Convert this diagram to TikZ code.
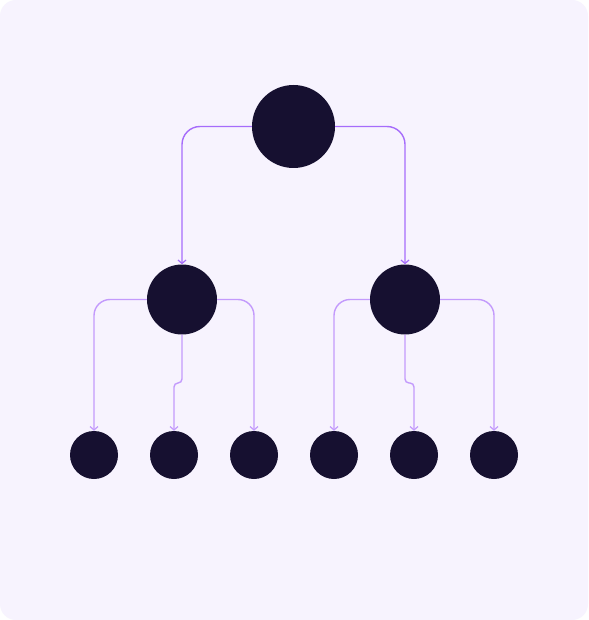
\documentclass[tikz,border=0pt]{standalone}
\usetikzlibrary{arrows.meta}
\definecolor{bgc}{HTML}{F7F3FE}
\definecolor{dotc}{HTML}{161030}
\definecolor{lineA}{HTML}{A66CFB}
\definecolor{lineB}{HTML}{C39AFC}
\begin{document}
\begin{tikzpicture}[x=1pt,y=-1pt,
  dotnode/.style={circle,fill=dotc,inner sep=0pt,draw=none},
  rootdot/.style={dotnode,minimum size=83pt},
  middot/.style={dotnode,minimum size=70pt},
  leafdot/.style={dotnode,minimum size=48pt},
  tipv/.style={-{Straight Barb[length=3.5pt,width=8pt,line width=1.2pt]}},
  connA/.style={draw=lineA,line width=1.4pt,tipv,rounded corners=18pt},
  connB/.style={draw=lineB,line width=1.4pt,tipv,rounded corners=16pt},
  jogB/.style={draw=lineB,line width=1.4pt,tipv,rounded corners=4pt}]
\useasboundingbox (0,0) rectangle (588,620);
\fill[white] (0,0) rectangle (588,620);
\fill[bgc,rounded corners=16pt] (0,0) rectangle (588,620);

\node[rootdot] (root) at (293.5,126.5) {};
\node[middot] (ml) at (182,299.5) {};
\node[middot] (mr) at (405,299.5) {};
\node[leafdot] (a1) at (94,455) {};
\node[leafdot] (a2) at (174,455) {};
\node[leafdot] (a3) at (254,455) {};
\node[leafdot] (b1) at (334,455) {};
\node[leafdot] (b2) at (414,455) {};
\node[leafdot] (b3) at (494,455) {};

\coordinate (jl1) at (182,383);
\coordinate (jl2) at (174,383);
\coordinate (jr1) at (405,383);
\coordinate (jr2) at (414,383);

\draw[connA] (root.west) -| (ml.north);
\draw[connA] (root.east) -| (mr.north);

\draw[connB] (ml.west) -| (a1.north);
\draw[connB] (ml.east) -| (a3.north);
\draw[jogB] (ml.south) -- (jl1) -- (jl2) -- (a2.north);

\draw[connB] (mr.west) -| (b1.north);
\draw[connB] (mr.east) -| (b3.north);
\draw[jogB] (mr.south) -- (jr1) -- (jr2) -- (b2.north);
\end{tikzpicture}
\end{document}
